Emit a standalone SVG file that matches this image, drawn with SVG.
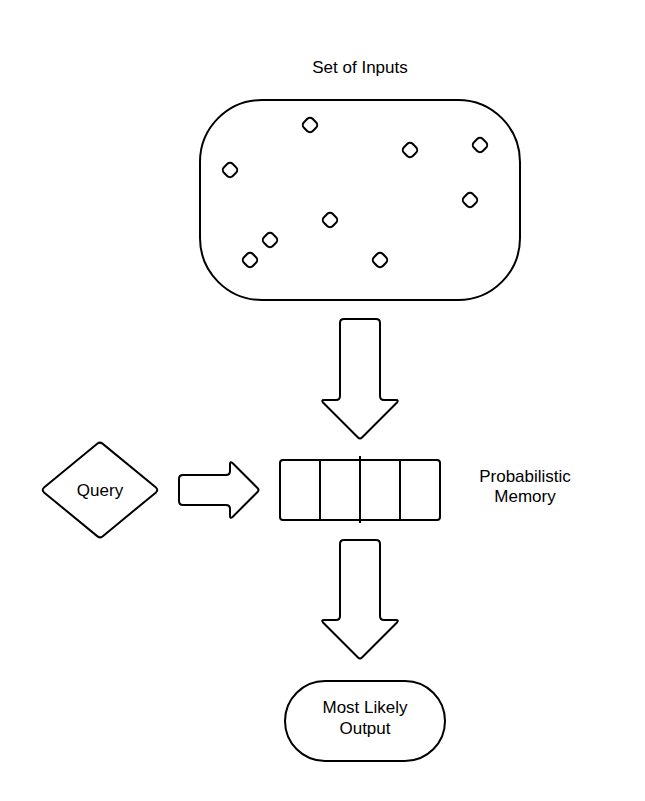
<svg xmlns="http://www.w3.org/2000/svg" width="645" height="801" viewBox="0 0 645 801">
<style>
.s{fill:#fff;stroke:#000;stroke-width:2;stroke-linejoin:round}
.t{font-family:"Liberation Sans",Arial,sans-serif;font-size:17px;fill:#000;text-anchor:middle}
</style>
<defs>
<rect id="dot" x="-6.25" y="-6.25" width="12.5" height="12.5" rx="4" transform="rotate(45)" class="s"/>
</defs>
<rect width="645" height="801" fill="#fff"/>
<g id="inputs">
<text class="t" x="360" y="73">Set of Inputs</text>
<rect class="s" x="200" y="100" width="320" height="200" rx="62"/>
<use href="#dot" x="310" y="125"/>
<use href="#dot" x="410" y="150"/>
<use href="#dot" x="480" y="145"/>
<use href="#dot" x="230" y="170"/>
<use href="#dot" x="470" y="200"/>
<use href="#dot" x="330" y="220"/>
<use href="#dot" x="270" y="240"/>
<use href="#dot" x="250" y="260"/>
<use href="#dot" x="380" y="260"/>
</g>
<g id="query">
<path class="s" d="M44,487.6 L97.5,443.6 Q100,441.6 102.5,443.6 L156,487.6 Q158.5,490 156,492.4 L102.5,536.4 Q100,538.4 97.5,536.4 L44,492.4 Q41.5,490 44,487.6 Z"/>
<text class="t" x="100" y="496">Query</text>
</g>
<g id="memory">
<rect class="s" x="280" y="460" width="160" height="60" rx="3"/>
<line x1="320" y1="460" x2="320" y2="520" stroke="#000" stroke-width="2"/>
<line x1="360" y1="456" x2="360" y2="523" stroke="#000" stroke-width="2"/>
<line x1="400" y1="460" x2="400" y2="520" stroke="#000" stroke-width="2"/>
<text class="t" x="525" y="482">Probabilistic</text>
<text class="t" x="525" y="502">Memory</text>
</g>
<g id="output">
<rect class="s" x="285" y="681" width="160" height="80" rx="40"/>
<text class="t" x="365" y="713">Most Likely</text>
<text class="t" x="365" y="734">Output</text>
</g>
<g id="connectors">
<path class="s" d="M340,323 Q340,319 344,319 L376,319 Q380,319 380,323 L380,396 Q380,400 384,400 L396,400 Q399,400 397,402.5 L362,437.5 Q360,439.5 358,437.5 L323,402.5 Q321,400 324,400 L336,400 Q340,400 340,396 Z"/>
<path class="s" d="M183,475 L226,475 Q230,475 230,471 L230,464 Q230,461 232.5,463 L257.5,488 Q259.5,490 257.5,492 L232.5,517 Q230,519 230,516 L230,509 Q230,505 226,505 L183,505 Q179,505 179,501 L179,479 Q179,475 183,475 Z"/>
<path class="s" d="M340,544 Q340,540 344,540 L376,540 Q380,540 380,544 L380,616 Q380,620 384,620 L396,620 Q399,620 397,622.5 L362,657.5 Q360,659.5 358,657.5 L323,622.5 Q321,620 324,620 L336,620 Q340,620 340,616 Z"/>
</g>
</svg>
